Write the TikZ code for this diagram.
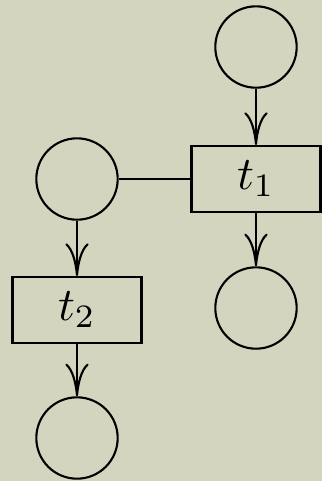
\documentclass[tikz,border=0pt]{standalone}
\usetikzlibrary{arrows.meta}
\definecolor{bgcol}{RGB}{212,213,190}
\begin{document}
\begin{tikzpicture}[x=0.2138pt,y=-0.2138pt,
  place/.style={circle,draw,line width=0.45pt,minimum size=17.4pt,inner sep=0pt},
  transition/.style={rectangle,draw,line width=0.45pt,minimum width=27.6pt,minimum height=14.1pt,inner sep=0pt},
  arc/.style={line width=0.45pt,-{To[length=7pt,width=5pt]}},
  plain/.style={line width=0.45pt}]
\fill[bgcol] (0,0) rectangle (322,481);
\useasboundingbox (0,0) rectangle (322,481);
\node[place] (p1) at (256,47) {};
\node[transition] (t1) at (256,179) {$t_1$};
\node[place] (p2) at (77,179) {};
\node[place] (p3) at (256,308) {};
\node[transition] (t2) at (77,310) {$t_2$};
\node[place] (p4) at (77,438) {};
\draw[arc] (p1) -- (t1);
\draw[arc] (t1) -- (p3);
\draw[arc] (p2) -- (t2);
\draw[arc] (t2) -- (p4);
\draw[plain] (p2) -- (t1);
\end{tikzpicture}
\end{document}
